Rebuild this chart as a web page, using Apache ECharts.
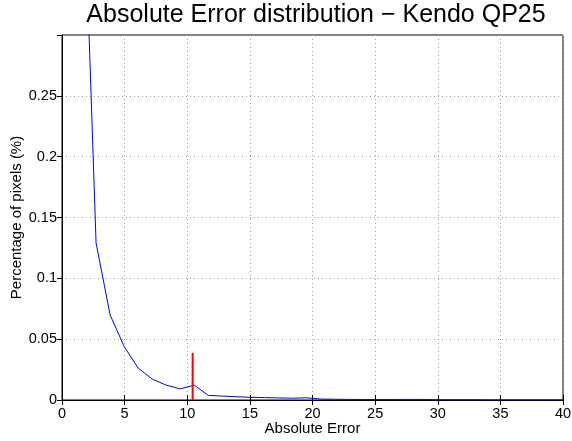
<!DOCTYPE html>
<html>
<head>
<meta charset="utf-8">
<script src="https://cdn.jsdelivr.net/npm/echarts@6/dist/echarts.min.js"></script>
<style>
  html, body { margin: 0; padding: 0; background: #fff; }
  #chart { width: 572px; height: 441px; }
</style>
</head>
<body>
<div id="chart"></div>
<script>
// bin centres of the error histogram
var errBins = [0.48, 1.6, 2.72, 3.84, 4.96, 6.08, 7.2, 8.32, 9.44, 10.56, 11.68, 12.8,
  13.92, 15.04, 16.16, 17.28, 18.4, 19.52, 20.64, 21.76, 22.88, 24, 25.12, 26.24,
  27.36, 28.48, 29.6, 30.72, 31.84, 32.96, 34.08, 35.2, 36.32, 37.44, 38.56, 39.68, 40.8];
var pctPixels = [0.55, 0.472, 0.129, 0.070, 0.044, 0.0262, 0.0172, 0.0122, 0.0092, 0.0122, 0.0038, 0.0032,
  0.0027, 0.0022, 0.0020, 0.0017, 0.0015, 0.0018, 0.0008, 0.0006, 0.0005, 0.0004, 0.0004, 0.0004,
  0.0005, 0.0005, 0.0003, 0.0002, 0.0002, 0.0002, 0.0001, 0.0001, 0.0001, 0.0001, 0.0001, 0.0001, 0.0001];
// red marker: mean absolute error
var meanErr = 10.43;
var meanMarkHeight = 0.0387;
var xTicks = [0, 5, 10, 15, 20, 25, 30, 35, 40];
var yTicks = [0, 0.05, 0.1, 0.15, 0.2, 0.25];

var font = 'Liberation Sans, Arial, Helvetica, sans-serif';
var dotted = { show: true, lineStyle: { color: '#a0a0a0', type: [1, 3], width: 1 } };

var curve = errBins.map(function (x, i) { return [x, pctPixels[i]]; });
var meanLine = [[meanErr, 0], [meanErr, meanMarkHeight]];

var chart = echarts.init(document.getElementById('chart'));
chart.setOption({
  animation: false,
  backgroundColor: '#fff',
  title: {
    text: 'Absolute Error distribution \u2212 Kendo QP25',
    left: 311, top: -2, textAlign: 'center',
    textStyle: { fontFamily: font, fontSize: 25, fontWeight: 'normal', color: '#000' }
  },
  grid: {
    left: 62, right: 9, top: 35, bottom: 41, containLabel: false, outerBoundsMode: 'none',
    show: true, borderColor: '#000', borderWidth: 1
  },
  xAxis: [{
    type: 'value', min: 0, max: 40, interval: 5,
    name: 'Absolute Error', nameLocation: 'middle', nameGap: 21, nameMoveOverlap: false,
    nameTextStyle: { fontFamily: font, fontSize: 15, color: '#000' },
    axisLine: { lineStyle: { color: '#000', width: 1 } },
    axisTick: { inside: true, length: 5, lineStyle: { color: '#000' } },
    axisLabel: { fontFamily: font, fontSize: 14.5, color: '#000', margin: 6,
      formatter: function (v) { return xTicks.indexOf(v) >= 0 ? String(v) : ''; } },
    splitLine: dotted
  }, {
    type: 'value', min: 0, max: 40, interval: 5, position: 'top',
    axisLine: { show: false },
    axisTick: { inside: true, length: 5, lineStyle: { color: '#000' } },
    axisLabel: { show: false }, splitLine: { show: false }
  }],
  yAxis: [{
    type: 'value', min: 0, max: 0.3, interval: 0.05,
    name: 'Percentage of pixels (%)', nameLocation: 'middle', nameGap: 38, nameMoveOverlap: false,
    nameTextStyle: { fontFamily: font, fontSize: 15, color: '#000' },
    axisLine: { show: true, lineStyle: { color: '#000', width: 1 } },
    axisTick: { show: true, inside: false, length: 5, lineStyle: { color: '#000' } },
    axisLabel: { fontFamily: font, fontSize: 14.5, color: '#000', margin: 5, showMaxLabel: false,
      formatter: function (v) {
        var r = Math.round(v * 100) / 100;
        return yTicks.indexOf(r) >= 0 ? String(r) : '';
      } },
    splitLine: dotted
  }, {
    type: 'value', min: 0, max: 0.3, interval: 0.05, position: 'right',
    axisLine: { show: false },
    axisTick: { show: true, inside: true, length: 5, lineStyle: { color: '#000' } },
    axisLabel: { show: false }, splitLine: { show: false }
  }],
  series: [{
    type: 'line', data: curve, symbol: 'none', clip: true,
    lineStyle: { color: '#0000ff', width: 1 }
  }, {
    type: 'line', data: meanLine, symbol: 'none',
    lineStyle: { color: '#ff0000', width: 2 }
  }]
});
</script>
</body>
</html>
